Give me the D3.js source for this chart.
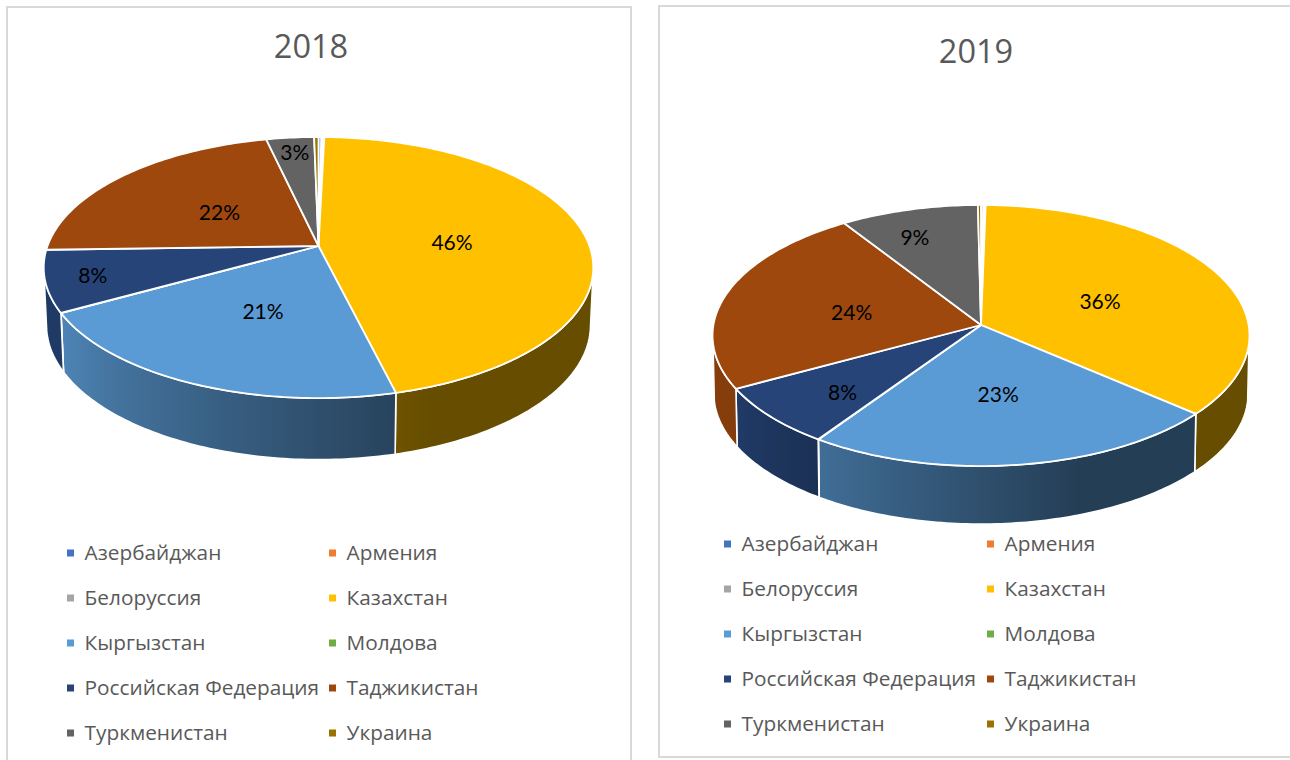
<!DOCTYPE html>
<html>
<head>
<meta charset="utf-8">
<script src="https://cdn.jsdelivr.net/npm/d3@7/dist/d3.min.js"></script>
<style>
  html, body { margin: 0; padding: 0; background: #fff; overflow: hidden; }
  svg { display: block; }
  .title { font-family: "Open Sans", sans-serif; font-size: 32.5px; fill: #595959; text-anchor: middle; }
  .legend-label { font-family: "Open Sans", sans-serif; font-size: 20.8px; fill: #595959; }
  .pct { font-family: Lato, sans-serif; font-size: 21px; fill: #000; text-anchor: middle; }
  .frame { fill: #fff; stroke: #d9d9d9; stroke-width: 2; }
</style>
</head>
<body>
<svg id="chart" width="1290" height="760"></svg>
<script>
// share of each country (%)
const categories = ['Азербайджан', 'Армения', 'Белоруссия', 'Казахстан', 'Кыргызстан',
  'Молдова', 'Российская Федерация', 'Таджикистан', 'Туркменистан', 'Украина'];
const values2018 = [0.2, 0.1, 0.1, 45.8, 20.8, 0.02, 7.6, 21.9, 3.3, 0.3];
const values2019 = [0.15, 0.05, 0.1, 36.0, 23.4, 0.02, 7.55, 23.7, 9.0, 0.2];
const colors = ['#4472c4', '#ed7d31', '#a5a5a5', '#ffc000', '#5b9bd5',
  '#70ad47', '#264478', '#9e480e', '#636363', '#997300'];

const svg = d3.select('#chart');
const colorScale = d3.scaleOrdinal(categories, colors);

// sides get darker going round the front of the pie, from the left to the right
const sideShade = d3.scaleLinear().domain([160, 240]).range([0.4, 0.85]).clamp(true);
const toRad = d => d * Math.PI / 180;

function drawPanel(cfg, values) {
  const g = svg.append('g');

  g.append('rect').attr('class', 'frame')
    .attr('x', cfg.frame.x).attr('y', cfg.frame.y)
    .attr('width', cfg.frame.w).attr('height', cfg.frame.h);

  g.append('text').attr('class', 'title')
    .attr('x', cfg.titleX).attr('y', cfg.titleY).text(cfg.title);

  // perspective view of the disc: angle in radians from 12 o'clock, r from 0 to 1
  const project = (a, r, lower) => {
    const u = r * Math.sin(a);
    const v = -r * Math.cos(a);
    const d = 1 - cfg.k * v;
    const rx = lower ? cfg.rx * cfg.lowRx : cfg.rx;
    const ry = lower ? cfg.ry * cfg.lowRy : cfg.ry;
    return [cfg.cx + rx * u / d, cfg.cy + (lower ? cfg.depth : 0) + ry * v / d];
  };
  const arcAngles = (a0, a1) => {
    const n = Math.max(2, Math.ceil((a1 - a0) / toRad(1)));
    return d3.range(n + 1).map(i => a0 + (a1 - a0) * i / n);
  };
  const line = d3.line();

  const total = d3.sum(values);
  const pie = d3.pie().sort(null).startAngle(toRad(cfg.start)).endAngle(toRad(cfg.start + 360));
  const slices = pie(values).map((s, i) => ({ ...s, name: categories[i] }));

  const defs = g.append('defs');
  const sides = g.append('g');
  const vis0 = toRad(cfg.visible[0]);
  const vis1 = toRad(cfg.visible[1]);

  slices.forEach((s, i) => {
    const a0 = Math.max(s.startAngle, vis0);
    const a1 = Math.min(s.endAngle, vis1);
    if (a1 <= a0) return;
    const angles = arcAngles(a0, a1);
    const top = angles.map(a => project(a, 1, false));
    const low = angles.map(a => project(a, 1, true)).reverse();
    const pts = top.concat(low);

    // horizontal gradient, stops taken along the arc
    const xs = d3.extent(pts, p => p[0]);
    const gradId = `side-${cfg.title}-${i}`;
    const grad = defs.append('linearGradient').attr('id', gradId)
      .attr('gradientUnits', 'userSpaceOnUse')
      .attr('x1', xs[0]).attr('x2', xs[1]).attr('y1', 0).attr('y2', 0);
    const base = d3.rgb(colorScale(s.name));
    const stops = angles.filter((a, j) => j % 5 === 0 || j === angles.length - 1)
      .map(a => ({ at: (project(a, 1, true)[0] - xs[0]) / (xs[1] - xs[0]), f: sideShade(a * 180 / Math.PI) }))
      .sort((p, q) => p.at - q.at);
    stops.forEach(st => {
      grad.append('stop')
        .attr('offset', Math.max(0, Math.min(1, st.at)))
        .attr('stop-color', d3.rgb(base.r * st.f, base.g * st.f, base.b * st.f).formatHex());
    });

    sides.append('path')
      .attr('d', line(pts) + 'Z')
      .attr('fill', `url(#${gradId})`)
      .attr('stroke', '#fff').attr('stroke-width', 1.6).attr('stroke-linejoin', 'round');
  });

  const tops = g.append('g');
  slices.forEach(s => {
    const rim = arcAngles(s.startAngle, s.endAngle).map(a => project(a, 1, false));
    tops.append('path')
      .attr('d', line([[cfg.cx, cfg.cy]].concat(rim)) + 'Z')
      .attr('fill', colorScale(s.name))
      .attr('stroke', '#fff').attr('stroke-width', 1.8).attr('stroke-linejoin', 'round');
  });

  slices.filter(s => s.value / total >= 0.01).forEach(s => {
    const mid = (s.startAngle + s.endAngle) / 2;
    const r = s.value / total < 0.1 ? cfg.smallLabelR : 0.5;
    const p = project(mid, r, false);
    const nudge = cfg.labelNudge[s.name] || [0, 0];
    g.append('text').attr('class', 'pct')
      .attr('x', p[0] + cfg.labelDx + nudge[0]).attr('y', p[1] + nudge[1]).attr('dy', '0.5em')
      .text(d3.format('.0%')(s.value / total));
  });

  // legend, two columns filled row by row
  const rowY = d3.scalePoint().domain(d3.range(5)).range(cfg.legend.rows);
  const colX = d3.scalePoint().domain(d3.range(2)).range(cfg.legend.cols);
  categories.forEach((name, i) => {
    const x = colX(i % 2);
    const y = rowY(Math.floor(i / 2));
    g.append('rect').attr('x', x).attr('y', y - 3.5)
      .attr('width', 7).attr('height', 7).attr('fill', colorScale(name));
    g.append('text').attr('class', 'legend-label')
      .attr('x', x + 17.6).attr('y', y).attr('dy', '0.35em').text(name);
  });
}

drawPanel({
  title: '2018', titleX: 311, titleY: 58,
  frame: { x: 7, y: 7, w: 624, h: 770 },
  cx: 318.5, cy: 246, rx: 271, ry: 127, k: 0.165,
  lowRx: 0.99, lowRy: 1.03, depth: 57,
  start: 0, visible: [100, 260], smallLabelR: 0.85,
  labelDx: 3, labelNudge: { 'Казахстан': [-3, 0], 'Российская Федерация': [2, -3], 'Туркменистан': [-2, -2] },
  legend: { rows: [553, 733], cols: [67, 329] }
}, values2018);

drawPanel({
  title: '2019', titleX: 976, titleY: 63,
  frame: { x: 659, y: 6, w: 650, h: 751 },
  cx: 981, cy: 325, rx: 267.6, ry: 129.7, k: 0.0805,
  lowRx: 0.995, lowRy: 1.0, depth: 58,
  start: 0, visible: [98, 262], smallLabelR: 0.72,
  labelDx: -1, labelNudge: { 'Российская Федерация': [12, 0], 'Туркменистан': [-12, -6] },
  legend: { rows: [544, 724], cols: [724, 987] }
}, values2019);
</script>
</body>
</html>
